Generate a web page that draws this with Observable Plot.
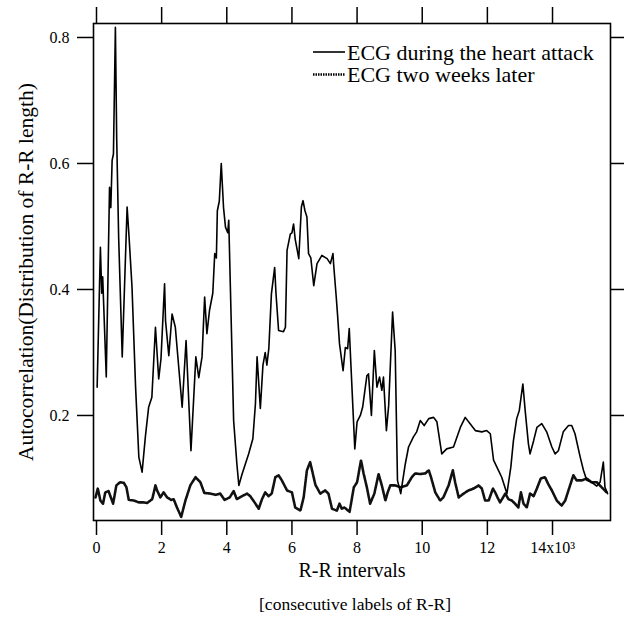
<!DOCTYPE html>
<html>
<head>
<meta charset="utf-8">
<script src="https://cdn.jsdelivr.net/npm/d3@7"></script>
<script src="https://cdn.jsdelivr.net/npm/@observablehq/plot@0.6"></script>
<style>
  html, body { margin: 0; padding: 0; background: white; }
  #wrap { position: relative; width: 624px; height: 618px; font-family: "Liberation Serif", "Times New Roman", serif; }
  #legend { position: absolute; left: 0; top: 0; pointer-events: none; }
</style>
</head>
<body>
<div id="wrap"></div>
<script>
// R-R interval index (thousands) and autocorrelation — ECG during the heart attack
const attackX = [0.02,0.12,0.16,0.19,0.30,0.40,0.44,0.48,0.52,0.58,0.62,0.68,0.79,0.94,1.00,1.09,1.20,1.30,1.40,1.50,1.60,1.70,1.81,1.91,1.98,2.09,2.12,2.22,2.32,2.42,2.63,2.75,2.90,3.05,3.14,3.24,3.32,3.39,3.47,3.57,3.63,3.68,3.71,3.77,3.83,3.90,3.96,4.03,4.06,4.11,4.21,4.31,4.37,4.47,4.57,4.67,4.80,4.88,4.93,5.03,5.11,5.18,5.23,5.29,5.37,5.47,5.51,5.59,5.74,5.80,5.85,5.95,6.00,6.05,6.10,6.21,6.29,6.34,6.40,6.46,6.51,6.58,6.67,6.77,6.92,7.08,7.18,7.26,7.28,7.36,7.40,7.46,7.57,7.64,7.71,7.76,7.81,7.93,8.00,8.10,8.17,8.30,8.35,8.44,8.53,8.61,8.69,8.76,8.81,8.90,8.97,9.09,9.17,9.24,9.34,9.48,9.58,9.73,9.83,9.94,10.06,10.20,10.35,10.45,10.60,10.75,10.96,11.17,11.32,11.47,11.63,11.83,11.98,12.09,12.19,12.34,12.44,12.60,12.72,12.80,12.90,12.98,13.09,13.16,13.26,13.31,13.42,13.52,13.67,13.82,13.98,14.08,14.18,14.33,14.49,14.59,14.69,14.85,14.95,15.05,15.20,15.36,15.46,15.56,15.61,15.69];
const attackY = [0.245,0.467,0.394,0.42,0.261,0.562,0.53,0.605,0.615,0.816,0.64,0.483,0.293,0.531,0.483,0.404,0.245,0.134,0.110,0.166,0.213,0.229,0.34,0.258,0.29,0.409,0.35,0.295,0.361,0.34,0.213,0.319,0.144,0.293,0.26,0.293,0.388,0.33,0.367,0.394,0.457,0.45,0.525,0.54,0.60,0.53,0.499,0.49,0.51,0.404,0.192,0.123,0.089,0.107,0.123,0.139,0.163,0.219,0.293,0.211,0.28,0.30,0.28,0.306,0.393,0.435,0.394,0.335,0.333,0.34,0.462,0.488,0.49,0.504,0.48,0.449,0.531,0.541,0.525,0.515,0.457,0.45,0.406,0.441,0.454,0.449,0.441,0.457,0.44,0.388,0.36,0.314,0.271,0.308,0.306,0.338,0.281,0.147,0.19,0.2,0.213,0.263,0.266,0.2,0.303,0.245,0.261,0.24,0.261,0.176,0.216,0.364,0.303,0.097,0.076,0.123,0.15,0.166,0.174,0.192,0.184,0.195,0.197,0.19,0.139,0.147,0.15,0.181,0.197,0.187,0.176,0.174,0.176,0.171,0.129,0.113,0.102,0.076,0.118,0.16,0.195,0.208,0.25,0.208,0.155,0.139,0.16,0.181,0.187,0.174,0.15,0.139,0.144,0.174,0.184,0.184,0.171,0.134,0.113,0.097,0.094,0.088,0.094,0.126,0.086,0.076];

// ECG two weeks later
const laterX = [-0.03,0.04,0.12,0.20,0.27,0.37,0.51,0.61,0.72,0.84,0.92,0.99,1.15,1.30,1.46,1.55,1.71,1.81,1.86,1.96,2.06,2.17,2.29,2.37,2.47,2.60,2.73,2.88,3.04,3.19,3.31,3.50,3.66,3.80,3.93,4.09,4.21,4.31,4.47,4.62,4.72,4.88,4.98,5.08,5.18,5.28,5.38,5.49,5.59,5.69,5.85,6.00,6.10,6.26,6.36,6.46,6.56,6.72,6.87,7.02,7.12,7.23,7.38,7.46,7.53,7.61,7.77,7.90,8.00,8.12,8.20,8.30,8.40,8.53,8.66,8.76,8.87,8.94,9.02,9.17,9.33,9.53,9.68,9.78,9.94,10.09,10.20,10.27,10.40,10.55,10.65,10.81,10.94,11.01,11.12,11.27,11.42,11.58,11.73,11.83,11.93,12.04,12.17,12.24,12.31,12.39,12.55,12.65,12.75,12.85,12.95,13.03,13.11,13.21,13.31,13.42,13.52,13.64,13.77,13.87,13.98,14.13,14.28,14.39,14.52,14.64,14.74,14.90,15.05,15.20,15.36,15.51,15.66];
const laterY = [0.07,0.084,0.065,0.06,0.078,0.08,0.06,0.089,0.094,0.093,0.086,0.066,0.065,0.062,0.062,0.061,0.067,0.089,0.081,0.07,0.078,0.07,0.066,0.067,0.054,0.039,0.065,0.089,0.102,0.094,0.077,0.076,0.074,0.076,0.066,0.07,0.08,0.067,0.072,0.076,0.072,0.06,0.052,0.067,0.078,0.072,0.076,0.102,0.105,0.097,0.081,0.078,0.054,0.049,0.07,0.113,0.126,0.09,0.076,0.081,0.076,0.052,0.049,0.06,0.052,0.054,0.047,0.086,0.094,0.129,0.108,0.086,0.06,0.076,0.107,0.089,0.065,0.078,0.089,0.089,0.086,0.089,0.102,0.108,0.107,0.108,0.113,0.102,0.078,0.065,0.07,0.089,0.113,0.094,0.07,0.076,0.081,0.084,0.089,0.084,0.065,0.065,0.084,0.078,0.07,0.062,0.076,0.067,0.065,0.06,0.054,0.078,0.06,0.054,0.076,0.072,0.084,0.1,0.102,0.091,0.081,0.065,0.057,0.065,0.086,0.105,0.097,0.097,0.1,0.094,0.094,0.086,0.078];

const xTicks = [0, 2, 4, 6, 8, 10, 12, 14];
const yTicks = [0.2, 0.4, 0.6, 0.8];
const seriesNames = ["ECG during the heart attack", "ECG two weeks later"];
const xTitle = "R-R intervals";
const yTitle = "Autocorrelation(Distribution of R-R length)";
const caption = "[consecutive labels of R-R]";

const attack = attackX.map((x, i) => ({x, y: attackY[i]}));
const later = laterX.map((x, i) => ({x, y: laterY[i]}));

const fmtX = d => d === 14 ? "14x10\u00B3" : String(d);
const FONT = "Liberation Serif, Times New Roman, serif";

const chart = Plot.plot({
  width: 624, height: 618,
  marginLeft: 93, marginRight: 14, marginTop: 23, marginBottom: 98,
  style: {fontFamily: FONT, fontSize: "16px", color: "black", background: "white", overflow: "visible"},
  x: {domain: [-0.092, 15.78]},
  y: {domain: [0.0333, 0.8222]},
  marks: [
    Plot.axisX({ticks: xTicks, tickSize: 15, tickPadding: 6, tickFormat: fmtX, label: null, strokeWidth: 1.5, fontSize: 16}),
    Plot.axisX({anchor: "top", ticks: xTicks, tickSize: 17, tickFormat: () => "", label: null, strokeWidth: 1.5}),
    Plot.axisY({ticks: yTicks, tickSize: 16, tickPadding: 8, tickFormat: d3.format(".1f"), label: null, strokeWidth: 1.5, fontSize: 16}),
    Plot.axisY({anchor: "right", ticks: yTicks, tickSize: 14, tickFormat: () => "", label: null, strokeWidth: 1.5}),
    Plot.frame({stroke: "black", strokeWidth: 1.6}),
    Plot.line(later, {x: "x", y: "y", stroke: "#111", strokeWidth: 2.6, strokeDasharray: "1.5,1"}),
    Plot.line(attack, {x: "x", y: "y", stroke: "black", strokeWidth: 1.6}),
    Plot.text([xTitle], {frameAnchor: "bottom", dy: 56, fontSize: 20, fill: "black"}),
    Plot.text([caption], {frameAnchor: "bottom", dy: 89, dx: 3, fontSize: 17.5, fill: "black"}),
    Plot.text([yTitle], {frameAnchor: "left", textAnchor: "middle", rotate: -90, dx: -67, fontSize: 21.5, fill: "black"})
  ]
});

const wrap = document.getElementById("wrap");
wrap.appendChild(chart);

// Legend overlay (inside plot, top right)
const NS = "http://www.w3.org/2000/svg";
const leg = document.createElementNS(NS, "svg");
leg.setAttribute("id", "legend");
leg.setAttribute("width", 624);
leg.setAttribute("height", 618);
const rows = [
  {name: seriesNames[0], dash: null, width: 1.6},
  {name: seriesNames[1], dash: "1.5,1", width: 2.6}
];
rows.forEach((r, i) => {
  const ly = 52 + i * 22.5;
  const ln = document.createElementNS(NS, "line");
  ln.setAttribute("x1", 313); ln.setAttribute("x2", 345);
  ln.setAttribute("y1", ly); ln.setAttribute("y2", ly);
  ln.setAttribute("stroke", "black");
  ln.setAttribute("stroke-width", r.width);
  if (r.dash) ln.setAttribute("stroke-dasharray", r.dash);
  leg.appendChild(ln);
  const t = document.createElementNS(NS, "text");
  t.setAttribute("x", 347);
  t.setAttribute("y", ly + 7.5);
  t.setAttribute("font-family", FONT);
  t.setAttribute("font-size", 22);
  t.setAttribute("fill", "black");
  t.textContent = r.name;
  leg.appendChild(t);
});
wrap.appendChild(leg);
</script>
</body>
</html>
